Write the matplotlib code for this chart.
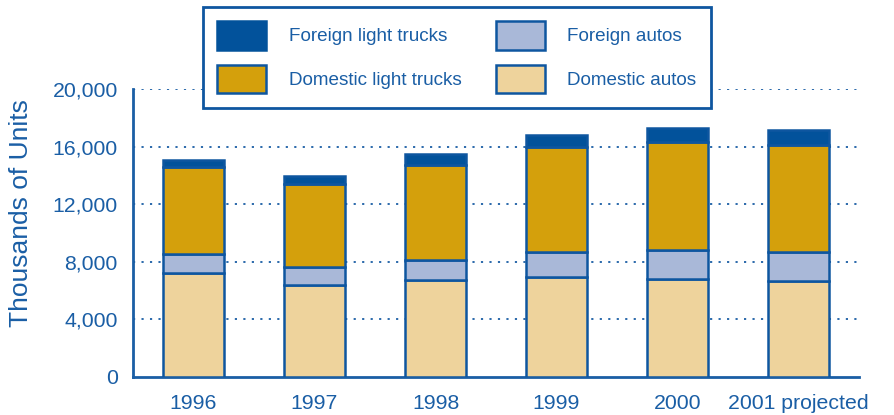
import matplotlib.pyplot as plt
from matplotlib.patches import Patch

plt.rcParams['font.family'] = ['Liberation Sans', 'DejaVu Sans']

# dados (milhares de unidades)
anos = ['1996', '1997', '1998', '1999', '2000', '2001 projected']
dom_autos = [7230, 6360, 6720, 6950, 6820, 6700]
for_autos = [1300, 1290, 1390, 1720, 1990, 1990]
dom_trucks = [6070, 5730, 6610, 7300, 7510, 7420]
for_trucks = [470, 600, 750, 830, 950, 1050]

azul = '#1a5ea5'
borda = '#0e56a0'
cores = {
    'Domestic autos': '#eed39c',
    'Foreign autos': '#a9b8d8',
    'Domestic light trucks': '#d4a00c',
    'Foreign light trucks': '#02529b',
}

fig = plt.figure(figsize=(8.94, 4.15), dpi=100)
ax = fig.add_axes([0.1488, 0.0916, 0.8121, 0.6939])

x = range(len(anos))
base = [0] * len(anos)
for nome, vals in [('Domestic autos', dom_autos), ('Foreign autos', for_autos),
                   ('Domestic light trucks', dom_trucks), ('Foreign light trucks', for_trucks)]:
    ax.bar(x, vals, bottom=base, width=0.5, color=cores[nome], edgecolor=borda,
           linewidth=1.8, zorder=3)
    base = [b + v for b, v in zip(base, vals)]

ax.set_xlim(-0.5, 5.5)
ax.set_ylim(0, 20000)
ax.set_yticks([0, 4000, 8000, 12000, 16000, 20000])
ax.set_yticklabels(['0', '4,000', '8,000', '12,000', '16,000', '20,000'])
ax.set_xticks(list(x))
ax.set_xticklabels(anos)
ax.tick_params(axis='both', length=0, labelsize=15.3, labelcolor=azul)
ax.tick_params(axis='y', pad=11)
ax.tick_params(axis='x', pad=12)

for g in [4000, 8000, 12000, 16000, 20000]:
    ax.axhline(g, color=azul, linestyle=(0, (1.2, 3.5)), linewidth=1.3, zorder=1)

for s in ['top', 'right']:
    ax.spines[s].set_visible(False)
for s in ['left', 'bottom']:
    ax.spines[s].set_color(azul)
    ax.spines[s].set_linewidth(2)

ax.set_ylabel('Thousands of Units', fontsize=19, color=azul, va='center')
ax.yaxis.set_label_coords(-0.154, 0.57)

# legenda
ordem = ['Foreign light trucks', 'Domestic light trucks', 'Foreign autos', 'Domestic autos']
handles = [Patch(facecolor=cores[n], edgecolor=(cores[n] if n == 'Foreign light trucks' else borda),
                 linewidth=1.8) for n in ordem]
leg = fig.legend(handles, ordem, loc='upper left', bbox_to_anchor=(203 / 894, 1 - 7 / 415),
                 ncol=2, fontsize=13.6, frameon=True, fancybox=False, framealpha=1,
                 edgecolor=borda, handlelength=2.6, handleheight=1.95, handletextpad=1.2,
                 columnspacing=1.8, labelspacing=0.8, borderpad=0.75, borderaxespad=0)
leg.get_frame().set_linewidth(2)
for t in leg.get_texts():
    t.set_color(azul)

fig.savefig('out.png', dpi=100)
